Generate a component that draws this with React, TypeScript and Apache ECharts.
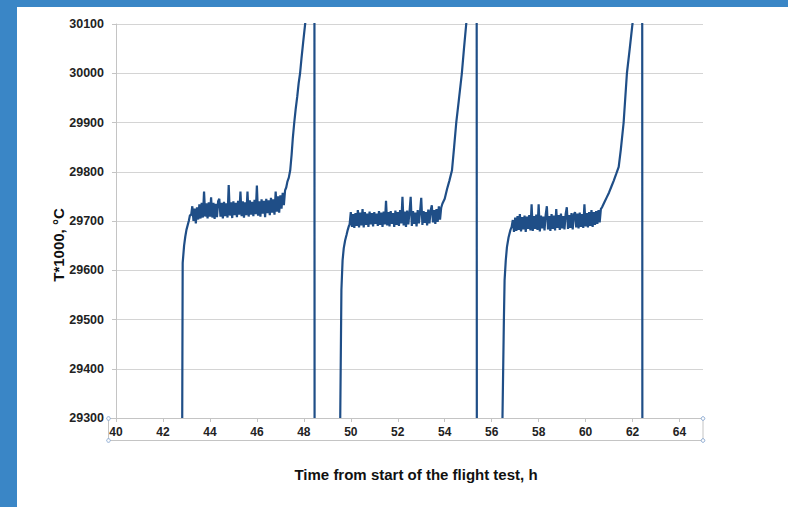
import React, { useEffect, useRef } from "react";
import * as echarts from "echarts";

const xTitle = "Time from start of the flight test, h";
const yTitle = "T*1000, °C";

// Cycle 1
const entry1: number[][] = [[42.81, 29000], [42.82, 29300], [42.84, 29615], [42.9, 29650], [42.95, 29668], [43.0, 29682], [43.1, 29700], [43.15, 29712]];
const plateau1Start = 43.2;
const plateau1Step = 0.05;
const plateau1: number[] = [
  29712, 29730, 29700, 29725, 29695, 29728, 29703, 29734, 29705, 29737,
  29707, 29760, 29709, 29736, 29705, 29738, 29709, 29748, 29707, 29737,
  29704, 29735, 29708, 29740, 29745, 29709, 29737, 29705, 29739, 29710,
  29736, 29707, 29773, 29711, 29738, 29706, 29740, 29712, 29737, 29708,
  29741, 29713, 29760, 29710, 29740, 29707, 29738, 29712, 29760, 29709,
  29742, 29713, 29739, 29710, 29743, 29714, 29772, 29711, 29740, 29709,
  29744, 29715, 29741, 29708, 29745, 29716, 29742, 29712, 29747, 29717,
  29744, 29713, 29760, 29719, 29750, 29717, 29752, 29725, 29757, 29732,
];
const rise1: number[][] = [[47.2, 29762], [47.25, 29768], [47.3, 29780], [47.36, 29788], [47.42, 29803], [47.48, 29835], [47.53, 29868], [47.59, 29899], [47.65, 29926], [47.72, 29953], [47.78, 29980], [47.84, 30000], [47.9, 30030], [47.97, 30062], [48.06, 30102], [48.15, 30200], [48.45, 30300], [48.46, 29000]];

// Cycle 2
const entry2: number[][] = [[49.54, 29000], [49.55, 29300], [49.6, 29560], [49.65, 29620], [49.7, 29645], [49.76, 29661], [49.82, 29672], [49.87, 29682], [49.92, 29690]];
const plateau2Start = 49.95;
const plateau2Step = 0.05;
const plateau2: number[] = [
  29693, 29718, 29688, 29714, 29686, 29716, 29690, 29722, 29687, 29717,
  29691, 29724, 29687, 29718, 29692, 29715, 29688, 29719, 29693, 29716,
  29689, 29718, 29694, 29715, 29690, 29720, 29692, 29717, 29688, 29719,
  29693, 29741, 29691, 29718, 29689, 29720, 29694, 29716, 29688, 29721,
  29692, 29718, 29690, 29722, 29695, 29749, 29691, 29719, 29688, 29721,
  29693, 29718, 29749, 29690, 29720, 29694, 29717, 29689, 29722, 29695,
  29719, 29747, 29692, 29720, 29696, 29718, 29691, 29723, 29695, 29721,
  29732, 29697, 29722, 29694, 29724, 29698, 29730, 29703, 29727,
];
const rise2: number[][] = [[53.9, 29735], [54.0, 29745], [54.1, 29765], [54.2, 29782], [54.31, 29803], [54.4, 29850], [54.49, 29899], [54.6, 29945], [54.73, 30000], [54.82, 30050], [54.92, 30102], [55.05, 30200], [55.36, 30300], [55.37, 29000]];

// Cycle 3
const entry3: number[][] = [[56.44, 29000], [56.46, 29300], [56.52, 29500], [56.55, 29580], [56.6, 29620], [56.65, 29647], [56.72, 29667], [56.8, 29682]];
const plateau3Start = 56.85;
const plateau3Step = 0.05;
const plateau3: number[] = [
  29688, 29702, 29678, 29707, 29680, 29710, 29682, 29714, 29679, 29708,
  29683, 29711, 29678, 29709, 29684, 29712, 29681, 29734, 29680, 29710,
  29684, 29713, 29682, 29734, 29679, 29711, 29685, 29709, 29681, 29713,
  29730, 29683, 29710, 29680, 29714, 29684, 29711, 29681, 29724, 29686,
  29712, 29682, 29715, 29685, 29710, 29683, 29714, 29728, 29684, 29712,
  29686, 29716, 29683, 29713, 29718, 29687, 29715, 29685, 29717, 29688,
  29714, 29686, 29734, 29689, 29716, 29687, 29718, 29690, 29722, 29688,
  29718, 29692, 29720, 29694, 29722, 29697, 29724,
];
const rise3: number[][] = [[60.7, 29728], [60.8, 29738], [60.9, 29748], [61.0, 29758], [61.1, 29770], [61.2, 29782], [61.3, 29795], [61.41, 29810], [61.5, 29845], [61.62, 29900], [61.76, 30000], [61.88, 30050], [62.0, 30102], [62.1, 30200], [62.41, 30300], [62.42, 29000], [64.0, 29000]];

const xTicks = { min: 40, max: 65, interval: 2 };
const yTicks = { min: 29300, max: 30100, interval: 100 };

function sampled(t0: number, dt: number, vals: number[]): number[][] {
  return vals.map((v, i) => [Math.round((t0 + i * dt) * 1000) / 1000, v]);
}

const FONT = "'Liberation Sans', Arial, sans-serif";

export default function App() {
  const ref = useRef<HTMLDivElement>(null);
  useEffect(() => {
    if (!ref.current) return;
    const chart = echarts.init(ref.current, undefined, { renderer: "svg" });
    const data = [
      ...entry1,
      ...sampled(plateau1Start, plateau1Step, plateau1),
      ...rise1,
      ...entry2,
      ...sampled(plateau2Start, plateau2Step, plateau2),
      ...rise2,
      ...entry3,
      ...sampled(plateau3Start, plateau3Step, plateau3),
      ...rise3,
    ];
    chart.setOption({
      animation: false,
      backgroundColor: "#ffffff",
      grid: { left: 116, top: 24, width: 587, height: 394, containLabel: false },
      xAxis: {
        type: "value",
        min: xTicks.min,
        max: xTicks.max,
        interval: xTicks.interval,
        axisLine: { show: true, lineStyle: { color: "#c4c4c4", width: 1 } },
        axisTick: { show: true, length: 4, lineStyle: { color: "#c4c4c4" } },
        splitLine: { show: false },
        axisLabel: {
          margin: 8,
          showMaxLabel: false,
          color: "#222",
          fontWeight: "bold",
          fontSize: 12,
          fontFamily: FONT,
          formatter: (v: number) => String(v),
        },
      },
      yAxis: {
        type: "value",
        min: yTicks.min,
        max: yTicks.max,
        interval: yTicks.interval,
        axisLine: { show: true, lineStyle: { color: "#c4c4c4", width: 1 } },
        axisTick: { show: true, length: 4, lineStyle: { color: "#c4c4c4" } },
        splitLine: { show: true, lineStyle: { color: "#d4d4d4", width: 1 } },
        axisLabel: {
          margin: 12,
          color: "#222",
          fontWeight: "bold",
          fontSize: 12.5,
          fontFamily: FONT,
          formatter: (v: number) => String(v),
        },
      },
      series: [
        {
          type: "line",
          data,
          showSymbol: false,
          symbol: "none",
          clip: true,
          lineStyle: { color: "#1f4e87", width: 2.2 },
          itemStyle: { color: "#1f4e87" },
        },
      ],
      graphic: [
        { type: "rect", shape: { x: 0, y: 0, width: 17, height: 507 }, style: { fill: "#3a86c6" }, z: 100 },
        { type: "rect", shape: { x: 0, y: 0, width: 788, height: 7 }, style: { fill: "#3a86c6" }, z: 100 },
        { type: "rect", shape: { x: 108.5, y: 418.5, width: 594.5, height: 22 }, style: { fill: "none", stroke: "#c4c4c4", lineWidth: 1 }, z: 50 },
        { type: "circle", shape: { cx: 108.5, cy: 418.5, r: 1.8 }, style: { fill: "#fff", stroke: "#8aa9d2", lineWidth: 1 }, z: 60 },
        { type: "circle", shape: { cx: 108.5, cy: 440.5, r: 1.8 }, style: { fill: "#fff", stroke: "#8aa9d2", lineWidth: 1 }, z: 60 },
        { type: "circle", shape: { cx: 703, cy: 418.5, r: 1.8 }, style: { fill: "#fff", stroke: "#8aa9d2", lineWidth: 1 }, z: 60 },
        { type: "circle", shape: { cx: 703, cy: 440.5, r: 1.8 }, style: { fill: "#fff", stroke: "#8aa9d2", lineWidth: 1 }, z: 60 },
        {
          type: "text",
          x: 58,
          y: 245,
          rotation: Math.PI / 2,
          style: {
            text: yTitle,
            fill: "#111",
            font: `bold 15px ${FONT}`,
            textAlign: "center",
            textVerticalAlign: "middle",
          },
        },
        {
          type: "text",
          x: 416,
          y: 474,
          style: {
            text: xTitle,
            fill: "#111",
            font: `bold 15px ${FONT}`,
            textAlign: "center",
            textVerticalAlign: "middle",
          },
        },
      ],
    });
    return () => chart.dispose();
  }, []);
  return (
    <div
      ref={ref}
      style={{ position: "absolute", left: 0, top: 0, width: 788, height: 507, background: "#fff" }}
    />
  );
}
